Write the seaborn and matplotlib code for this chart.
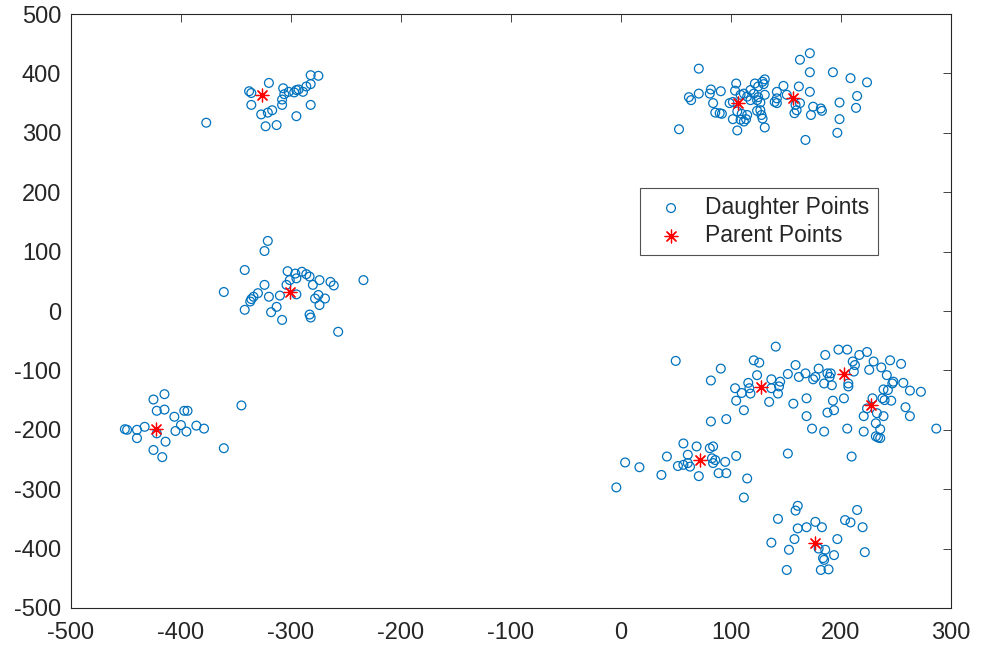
import numpy as np
import pandas as pd
import matplotlib
matplotlib.use("Agg")
import matplotlib.pyplot as plt
import seaborn as sns

# ---------------------------
# DATA
# ---------------------------
# daughter points, one pair of lists per cluster
a_x = [-377, -338, -336, -320, -336, -307, -306, -308, -308, -317, -321, -327, -323,
       -313, -295, -282, -295, -302, -297, -293, -289, -286, -282, -282, -275]
a_y = [317, 370, 367, 384, 347, 375, 365, 356, 347, 338, 334, 331, 311,
       313, 328, 347, 372, 369, 368, 373, 369, 378, 382, 397, 396]

b_x = [-321, -324, -342, -361, -324, -330, -334, -336, -337, -342, -320, -318, -313,
       -308, -310, -304, -303, -296, -301, -295, -290, -286, -283, -280, -274, -264,
       -261, -234, -295, -278, -275, -269, -274, -283, -282, -257]
b_y = [118, 101, 69, 32, 44, 30, 24, 20, 16, 2, 24, -2, 7,
       -15, 26, 44, 67, 63, 52, 55, 66, 62, 58, 44, 52, 49,
       43, 52, 28, 21, 27, 21, 10, -6, -11, -35]

c_x = [-425, -415, -422, -415, -406, -397, -394, -345, -451, -449, -440, -433, -440,
       -422, -414, -405, -400, -395, -386, -379, -425, -417, -361]
c_y = [-149, -140, -168, -166, -178, -168, -168, -159, -199, -200, -200, -195, -214,
       -206, -220, -202, -192, -203, -193, -198, -234, -246, -231]

d_x = [53, 62, 64, 71, 71, 82, 81, 91, 84, 86, 90, 92, 105, 104, 109, 112, 115, 118,
       122, 125, 129, 131, 130, 131, 118, 124, 127, 106, 110, 115, 114, 112, 102, 106,
       124, 127, 128, 129, 131, 140, 142, 142, 148, 151, 142, 162, 159, 160, 163, 158,
       172, 172, 163, 172, 168, 173, 175, 182, 183, 193, 199, 199, 197, 209, 215, 214,
       224, 102, 99, 109, 121, 125]
d_y = [306, 360, 355, 366, 408, 373, 366, 370, 350, 334, 333, 332, 383, 371, 364, 366,
       361, 372, 383, 378, 386, 390, 382, 364, 355, 355, 351, 336, 332, 330, 323, 319,
       323, 304, 337, 338, 330, 324, 309, 352, 358, 369, 379, 364, 350, 378, 347, 338,
       350, 333, 369, 402, 423, 434, 288, 330, 344, 341, 337, 402, 351, 323, 300, 392,
       362, 342, 385, 352, 350, 322, 366, 360]

e_x = [50, 141, 121, 126, 159, 91, 82, 124, 137, 145, 152, 162, 116, 104, 110, 118,
       117, 137, 144, 143, 105, 112, 135, 157, 82, 96, 57, 69, 81, 84, 42, 61, 105,
       152, 4, 17, 52, 57, 61, 63, 83, 86, 84, 95, 37, 71, 89, 96, 115, -4, 112]
e_y = [-84, -60, -83, -87, -91, -97, -117, -108, -115, -119, -106, -111, -121, -130,
       -138, -139, -130, -130, -127, -139, -151, -167, -153, -156, -186, -182, -223,
       -228, -231, -228, -245, -242, -244, -240, -255, -263, -261, -259, -256, -262,
       -248, -251, -256, -254, -276, -278, -273, -273, -282, -297, -314]

f_x = [168, 169, 169, 174, 175, 177, 180, 185, 185, 186, 188, 191, 190, 192, 188, 194,
       193, 198, 206, 206, 203, 207, 207, 211, 213, 212, 217, 224, 226, 230, 237, 245,
       255, 242, 247, 248, 243, 239, 238, 240, 246, 257, 263, 273, 259, 263, 229, 221,
       233, 239, 232, 236, 221, 232, 234, 236, 287, 224, 210]
f_y = [-105, -147, -177, -198, -115, -111, -97, -122, -203, -74, -105, -105, -111, -125,
       -171, -167, -151, -65, -65, -198, -147, -122, -127, -85, -91, -102, -74, -69, -99,
       -85, -95, -83, -89, -108, -122, -119, -133, -132, -147, -150, -151, -121, -134,
       -136, -162, -177, -147, -177, -172, -177, -189, -199, -203, -211, -213, -214,
       -198, -164, -245]

g_x = [161, 159, 143, 215, 204, 209, 220, 161, 169, 177, 183, 158, 137, 197, 153, 180,
       186, 194, 222, 185, 184, 151, 182, 189]
g_y = [-328, -336, -350, -335, -352, -356, -364, -366, -364, -355, -364, -384, -390,
       -384, -402, -400, -402, -411, -406, -419, -416, -436, -436, -435]

# parent points
parent_x = [-326, -301, -423, 107, 157, 128, 72, 203, 228, 177]
parent_y = [364, 32, -198, 350, 359, -128, -251, -106, -158, -390]

daughter = pd.DataFrame({
    "x": a_x + b_x + c_x + d_x + e_x + f_x + g_x,
    "y": a_y + b_y + c_y + d_y + e_y + f_y + g_y,
})
parent = pd.DataFrame({"x": parent_x, "y": parent_y})

# ---------------------------
# PLOT
# ---------------------------
sns.set_style("white")
plt.rcParams["font.family"] = ["Liberation Sans", "DejaVu Sans"]
plt.rcParams["axes.unicode_minus"] = False

fig = plt.figure(figsize=(9.82, 6.52), dpi=100)
ax = fig.add_axes([0.0723, 0.0675, 0.8957, 0.911])

sns.scatterplot(data=daughter, x="x", y="y", ax=ax, marker="o", s=40,
                facecolor="none", edgecolor="#0072BD", linewidth=0.9,
                label="Daughter Points")
sns.scatterplot(data=parent, x="x", y="y", ax=ax, marker=(8, 2, 0), s=85,
                color="#FF0000", edgecolor="#FF0000", linewidth=0.9,
                label="Parent Points")

ax.set_xlim(-500, 300)
ax.set_ylim(-500, 500)
ax.set_xticks(np.arange(-500, 301, 100))
ax.set_yticks(np.arange(-500, 501, 100))
ax.set_xlabel("")
ax.set_ylabel("")
ax.tick_params(direction="in", length=6, width=0.6, colors="#262626",
               labelsize=17, top=True, right=True, pad=7)
ax.tick_params(axis="x", pad=10)
for sp in ax.spines.values():
    sp.set_color("#262626")
    sp.set_linewidth(0.8)

leg = ax.legend(loc="upper left", bbox_to_anchor=(0.647, 0.707), borderaxespad=0,
                fontsize=16.5, frameon=True, fancybox=False, edgecolor="#262626",
                handletextpad=0.5, borderpad=0.35, labelspacing=0.2, handlelength=2.0)
leg.get_frame().set_linewidth(0.8)

plt.savefig("out.png", dpi=100)
